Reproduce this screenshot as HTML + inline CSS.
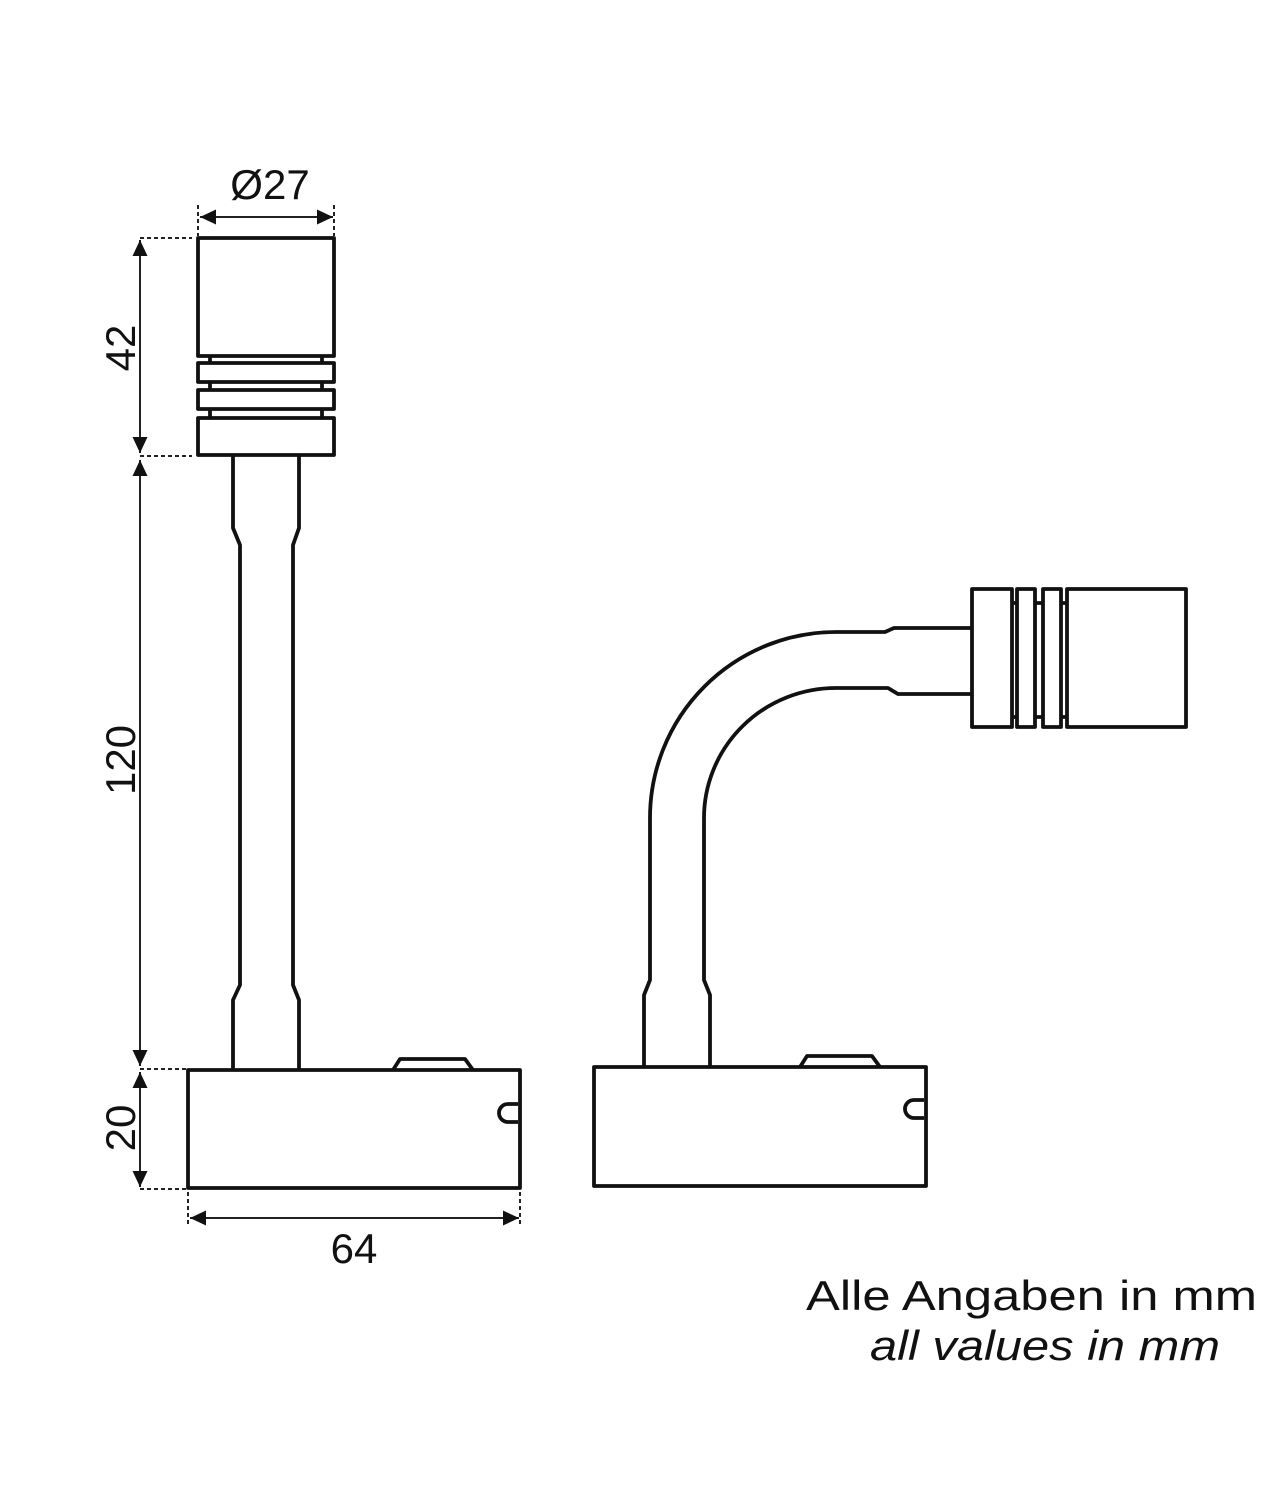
<!DOCTYPE html>
<html><head><meta charset="utf-8"><style>html,body{margin:0;padding:0;background:#fff}svg{display:block}</style></head>
<body>
<svg width="1280" height="1500" viewBox="0 0 1280 1500" xmlns="http://www.w3.org/2000/svg">
<defs>
<marker id="a" viewBox="0 0 10 10" refX="10" refY="5" markerWidth="16" markerHeight="15" markerUnits="userSpaceOnUse" orient="auto-start-reverse" preserveAspectRatio="none"><path d="M0,0L10,5L0,10z" fill="#111"/></marker>
</defs>
<g fill="none" stroke="#111" stroke-width="3.8" stroke-linejoin="round">
<rect x="198" y="238" width="136" height="118" fill="#fff"/>
<line x1="210" y1="356" x2="210" y2="418"/><line x1="322" y1="356" x2="322" y2="418"/>
<rect x="198" y="363" width="136" height="19" fill="#fff"/>
<rect x="198" y="390" width="136" height="19" fill="#fff"/>
<rect x="198" y="418" width="136" height="37" fill="#fff"/>
<path d="M233,455 V528 L240,545 V985 L233,1000 V1070"/>
<path d="M299,455 V528 L293,545 V985 L299,1000 V1070"/>
<rect x="188" y="1070" width="332" height="118"/>
<path d="M393,1070 L400,1059 H465 L473,1070"/>
<path d="M518,1104 H508 A8,8 0 0 0 508,1122 H518"/>
<rect x="594" y="1067" width="332" height="119"/>
<path d="M800,1067 L807,1056 H872 L880,1067"/>
<path d="M924,1100 H914 A8,8 0 0 0 914,1118 H924"/>
<path d="M644,1067 V995 L650,980 V818 A186,186 0 0 1 836,632 H885 L894,628 H972"/>
<path d="M710,1067 V995 L704,980 V818 A132,130 0 0 1 836,688 H888 L898,694 H972"/>
<rect x="972" y="589" width="40" height="138" fill="#fff"/>
<line x1="1012" y1="603" x2="1074" y2="603"/><line x1="1012" y1="717" x2="1074" y2="717"/>
<rect x="1017" y="589" width="18" height="138" fill="#fff"/>
<rect x="1043" y="589" width="18" height="138" fill="#fff"/>
<rect x="1067" y="589" width="119" height="138" fill="#fff"/>
</g>
<g stroke="#222" stroke-width="2" fill="none">
<line x1="140" y1="240" x2="140" y2="453" marker-start="url(#a)" marker-end="url(#a)"/>
<line x1="140" y1="460" x2="140" y2="1066" marker-start="url(#a)" marker-end="url(#a)"/>
<line x1="140" y1="1072" x2="140" y2="1187" marker-start="url(#a)" marker-end="url(#a)"/>
<line x1="200" y1="217" x2="333" y2="217" marker-start="url(#a)" marker-end="url(#a)"/>
<line x1="190" y1="1218" x2="519" y2="1218" marker-start="url(#a)" marker-end="url(#a)"/>
<g stroke-dasharray="4,3">
<line x1="140" y1="238" x2="192" y2="238"/>
<line x1="140" y1="456" x2="192" y2="456"/>
<line x1="140" y1="1069" x2="186" y2="1069"/>
<line x1="140" y1="1189" x2="186" y2="1189"/>
<line x1="198" y1="205" x2="198" y2="236"/>
<line x1="334" y1="205" x2="334" y2="236"/>
<line x1="188" y1="1192" x2="188" y2="1225"/>
<line x1="520" y1="1192" x2="520" y2="1225"/>
</g>
</g>
<g font-family="Liberation Sans, sans-serif" font-size="42" fill="#111" text-anchor="middle">
<text x="270" y="199">Ø27</text>
<text x="354" y="1263">64</text>
<text transform="translate(135,348) rotate(-90)">42</text>
<text transform="translate(135,760) rotate(-90)">120</text>
<text transform="translate(135,1128) rotate(-90)">20</text>
</g>
<g font-family="Liberation Sans, sans-serif" font-size="42" fill="#111">
<text x="806" y="1310" textLength="451" lengthAdjust="spacingAndGlyphs">Alle Angaben in mm</text>
<text x="870" y="1360" font-style="italic" textLength="350" lengthAdjust="spacingAndGlyphs">all values in mm</text>
</g>
</svg>
</body></html>
